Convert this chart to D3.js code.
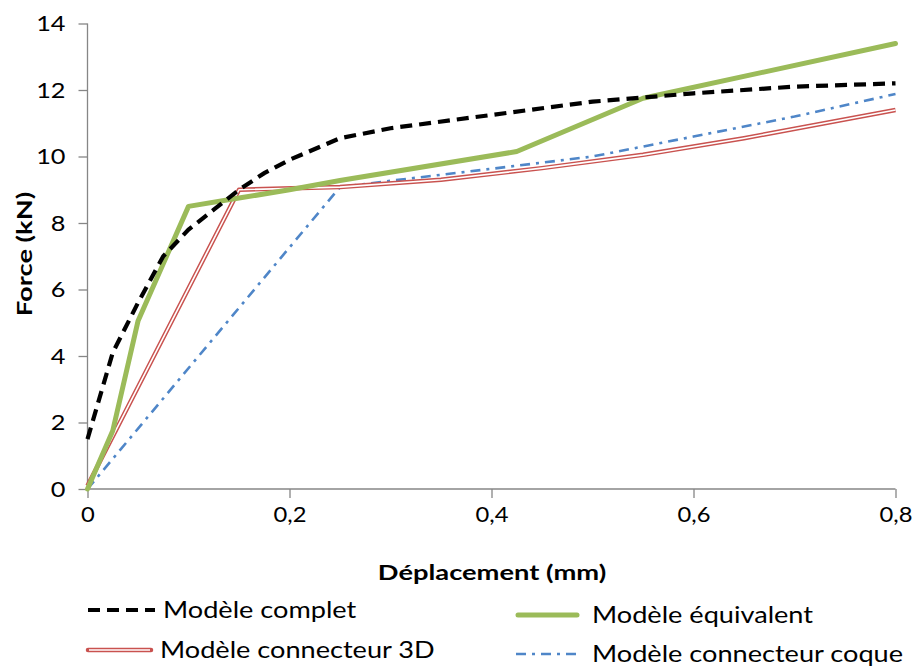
<!DOCTYPE html>
<html><head><meta charset="utf-8">
<script src="https://cdn.jsdelivr.net/npm/d3@7"></script>
<style>body{margin:0;background:#fff}svg{display:block}text{font-family:Lato,"Open Sans",sans-serif;fill:#000}</style>
</head><body><svg id="c" width="917" height="666"></svg>
<script>
const xTicks = [0, 0.2, 0.4, 0.6, 0.8];
const xTickLabels = ["0", "0,2", "0,4", "0,6", "0,8"];
const yTicks = [0, 2, 4, 6, 8, 10, 12, 14];
const seriesNames = ["Modèle complet", "Modèle équivalent", "Modèle connecteur 3D", "Modèle connecteur coque"];
const completX = [0, 0.025, 0.05, 0.075, 0.1, 0.125, 0.15, 0.175, 0.2, 0.25, 0.3, 0.4, 0.5, 0.6, 0.7, 0.8];
const completY = [1.5, 4.1, 5.6, 7.0, 7.8, 8.4, 9.0, 9.5, 9.9, 10.55, 10.85, 11.25, 11.65, 11.9, 12.1, 12.2];
const equivX = [0, 0.025, 0.05, 0.1, 0.15, 0.2, 0.25, 0.425, 0.55, 0.8];
const equivY = [0, 1.75, 5.05, 8.5, 8.75, 9.0, 9.28, 10.15, 11.75, 13.4];
const conn3dX = [0, 0.15, 0.25, 0.35, 0.45, 0.55, 0.65, 0.8];
const conn3dY = [0.1, 9.0, 9.08, 9.3, 9.65, 10.05, 10.55, 11.4];
const coqueX = [0, 0.25, 0.3, 0.4, 0.5, 0.6, 0.7, 0.8];
const coqueY = [0, 9.08, 9.27, 9.63, 10.0, 10.6, 11.2, 11.88];

const svg = d3.select("#c");
const x = d3.scaleLinear().domain([0, 0.8]).range([87.5, 895.5]);
const y = d3.scaleLinear().domain([0, 14]).range([489, 23.5]);
const axisColor = "#868686";
const sx = 1.18; // horizontal stretch of the reference text

// Y axis
const ya = svg.append("g").attr("transform", "translate(87.5,0)")
  .call(d3.axisLeft(y).tickValues(yTicks).tickSize(9).tickPadding(13).tickFormat(d => d));
ya.selectAll("path,line").attr("stroke", axisColor).attr("stroke-width", 1.3);
ya.select(".domain").attr("d", `M0,${y(14)}V${y(0)}`);
ya.selectAll("text").attr("font-size", 22).attr("font-family", "Lato,sans-serif").attr("fill", "#000")
  .attr("transform", function() { const t = d3.select(this); const xx = +t.attr("x"); return `translate(${xx},0) scale(1.15,1) translate(${-xx},0)`; });

// X axis
const xa = svg.append("g").attr("transform", `translate(0,${y(0)})`)
  .call(d3.axisBottom(x).tickValues(xTicks).tickSize(9).tickPadding(8).tickFormat((d, i) => xTickLabels[i]));
xa.selectAll("path,line").attr("stroke", axisColor).attr("stroke-width", 1.3);
xa.select(".domain").attr("d", `M${x(0)},0H${x(0.8)}`);
xa.selectAll("text").attr("font-size", 22).attr("font-family", "Lato,sans-serif").attr("fill", "#000")
  .attr("transform", "scale(1.08,1)");

// Axis titles
svg.append("text").attr("transform", `translate(492,580) scale(1.3,1)`).attr("text-anchor", "middle")
  .attr("font-size", 21).attr("font-weight", "bold").text("Déplacement (mm)");
svg.append("text").attr("transform", "translate(32,254) rotate(-90) scale(1.3,1)").attr("text-anchor", "middle")
  .attr("font-size", 21).attr("font-weight", "bold").text("Force (kN)");

const line = d3.line().x(d => x(d[0])).y(d => y(d[1]));
const zip = (a, b) => a.map((v, i) => [v, b[i]]);

const g = svg.append("g");
// Modèle connecteur coque (blue dash-dot)
g.append("path").attr("d", line(zip(coqueX, coqueY))).attr("fill", "none")
  .attr("stroke", "#4f86c8").attr("stroke-width", 2.6).attr("stroke-dasharray", "10,6,3,6");
// Modèle connecteur 3D (red double line)
g.append("path").attr("d", line(zip(conn3dX, conn3dY))).attr("fill", "none")
  .attr("stroke", "#c9524f").attr("stroke-width", 4.5).attr("stroke-linejoin", "round");
g.append("path").attr("d", line(zip(conn3dX, conn3dY))).attr("fill", "none")
  .attr("stroke", "#fff").attr("stroke-width", 1.6).attr("stroke-linejoin", "round");
// Modèle équivalent (green)
g.append("path").attr("d", line(zip(equivX, equivY))).attr("fill", "none")
  .attr("stroke", "#9bbb59").attr("stroke-width", 5).attr("stroke-linejoin", "round").attr("stroke-linecap", "round");
// Modèle complet (black dashed)
g.append("path").attr("d", line(zip(completX, completY))).attr("fill", "none")
  .attr("stroke", "#000").attr("stroke-width", 4.2).attr("stroke-dasharray", "12,7");

// Legend
const leg = [
  {x: 88, tx: 163, y: 610, name: seriesNames[0], type: "complet"},
  {x: 516, tx: 592, y: 615, name: seriesNames[1], type: "equiv"},
  {x: 88, tx: 160, y: 650, name: seriesNames[2], type: "3d"},
  {x: 516, tx: 592, y: 654, name: seriesNames[3], type: "coque"}
];
leg.forEach(l => {
  const gg = svg.append("g");
  const x1 = l.x, x2 = l.x + 63;
  if (l.type === "complet") {
    gg.append("line").attr("x1", x1).attr("x2", x2 + 4).attr("y1", l.y).attr("y2", l.y)
      .attr("stroke", "#000").attr("stroke-width", 4).attr("stroke-dasharray", "12,7");
  } else if (l.type === "equiv") {
    gg.append("line").attr("x1", x1 + 2).attr("x2", x2 - 2).attr("y1", l.y).attr("y2", l.y)
      .attr("stroke", "#9bbb59").attr("stroke-width", 5).attr("stroke-linecap", "round");
  } else if (l.type === "3d") {
    gg.append("line").attr("x1", x1).attr("x2", x2).attr("y1", l.y).attr("y2", l.y)
      .attr("stroke", "#c9524f").attr("stroke-width", 4.5).attr("stroke-linecap", "round");
    gg.append("line").attr("x1", x1 + 1).attr("x2", x2 - 1).attr("y1", l.y).attr("y2", l.y)
      .attr("stroke", "#fff").attr("stroke-width", 1.6);
  } else {
    gg.append("line").attr("x1", x1).attr("x2", x2).attr("y1", l.y).attr("y2", l.y)
      .attr("stroke", "#4f86c8").attr("stroke-width", 2.6).attr("stroke-dasharray", "10,6,3,6");
  }
  gg.append("text").attr("transform", `translate(${l.tx},${l.y + 8}) scale(${sx},1)`)
    .attr("font-size", 23).text(l.name);
});
</script></body></html>
